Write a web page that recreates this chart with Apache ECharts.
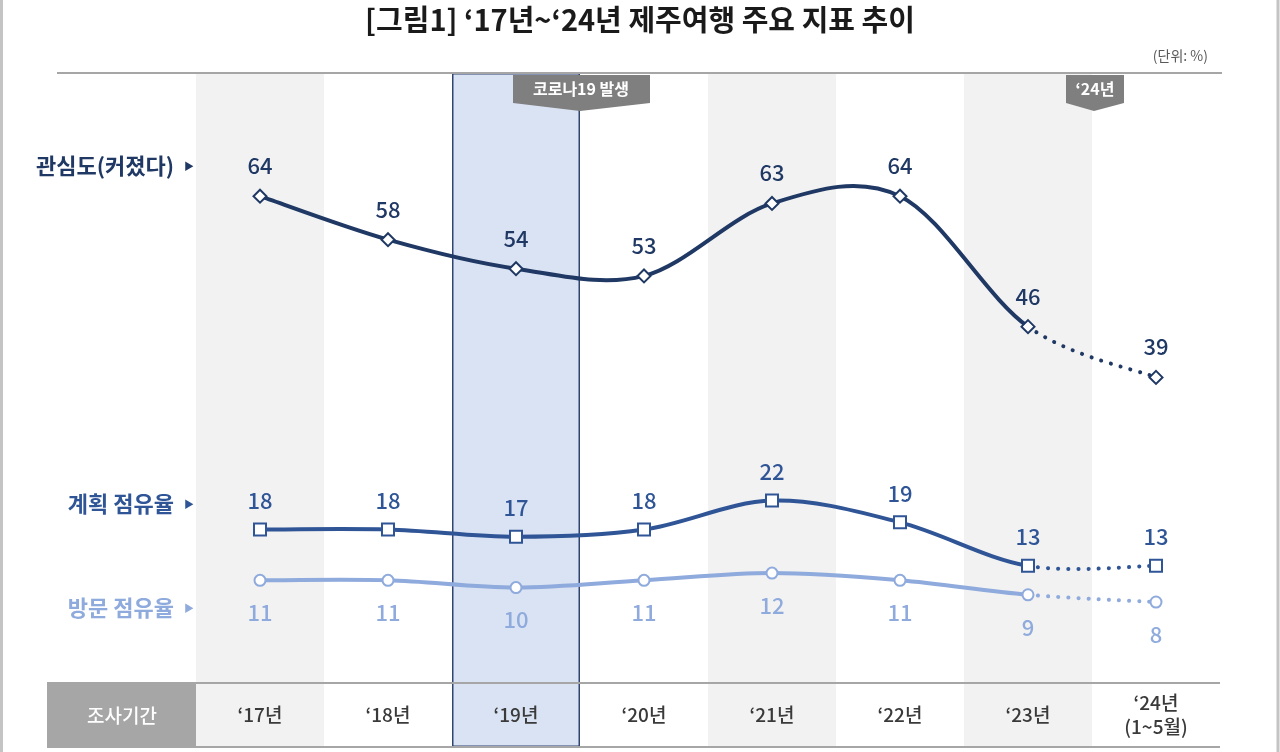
<!DOCTYPE html>
<html>
<head>
<meta charset="utf-8">
<script src="https://cdn.jsdelivr.net/npm/echarts@6/dist/echarts.min.js"></script>
<style>
html,body{margin:0;padding:0;background:#fff;}
#chart{width:1280px;height:752px;}
</style>
</head>
<body>
<div id="chart"></div>
<script>
// ---- data ----
const categories = ['‘17년', '‘18년', '‘19년', '‘20년', '‘21년', '‘22년', '‘23년', '‘24년\n(1~5월)'];
const interest = [64, 58, 54, 53, 63, 64, 46, 39];   // 관심도(커졌다)
const plan = [18, 18, 17, 18, 22, 19, 13, 13];       // 계획 점유율
const visit = [11, 11, 10, 11, 12, 11, 9, 8];        // 방문 점유율
const lastSolidIndex = 6;                             // '23년: after this the line is dotted
const bandKinds = ['grey', 'white', 'blue', 'white', 'grey', 'white', 'grey', 'white'];

const FONT = '"Noto Sans CJK KR", "Noto Sans", sans-serif';
const C_INT = '#1f3864';
const C_PLAN = '#2f5597';
const C_VIS = '#8faadc';

// smooth curve (cardinal spline, like office charts) drawn through the axis scales
function curveSeries(arr, color) {
  const n = arr.length;
  return {
    type: 'custom', silent: true, z: 4,
    data: arr.map((v, i) => [i, v]),
    encode: { x: 0, y: 1 },
    renderItem: function (params, api) {
      const i = params.dataIndex;
      if (i >= n - 1) return null;
      const P = j => { j = Math.max(0, Math.min(n - 1, j)); return api.coord([j, arr[j]]); };
      const p0 = P(i - 1), p1 = P(i), p2 = P(i + 1), p3 = P(i + 2);
      const t = 1 / 6;
      const dotted = i >= lastSolidIndex;
      return {
        type: 'bezierCurve',
        shape: {
          x1: p1[0], y1: p1[1], x2: p2[0], y2: p2[1],
          cpx1: p1[0] + (p2[0] - p0[0]) * t, cpy1: p1[1] + (p2[1] - p0[1]) * t,
          cpx2: p2[0] - (p3[0] - p1[0]) * t, cpy2: p2[1] - (p3[1] - p1[1]) * t
        },
        style: {
          stroke: color, lineWidth: 4, fill: null, lineCap: 'round',
          lineDash: dotted ? [0.1, 10] : null
        }
      };
    }
  };
}

function markerSeries(arr, color, symbol, size, labelPos, labelDist) {
  return {
    type: 'scatter', silent: true, z: 6,
    data: arr.map((v, i) => [i, v]),
    symbol: symbol, symbolSize: size,
    itemStyle: { color: '#fff', borderColor: color, borderWidth: 2, opacity: 1 },
    label: {
      show: true, position: labelPos, distance: labelDist,
      formatter: p => String(p.value[1]),
      color: color, fontSize: 22, fontWeight: 500, fontFamily: FONT
    }
  };
}

const bandColors = { grey: '#f2f2f2', white: 'rgba(0,0,0,0)', blue: '#dae3f3' };

const chart = echarts.init(document.getElementById('chart'));
const option = {
  animation: false,
  grid: { left: 196, right: 60, top: 73, bottom: 5 },
  xAxis: {
    type: 'category', data: categories, boundaryGap: true, z: 8,
    axisLine: { show: false }, axisTick: { show: false },
    axisLabel: { inside: true, margin: 32, verticalAlign: 'middle', color: '#3a3a3a', fontSize: 19, fontWeight: 500, lineHeight: 24, fontFamily: FONT, interval: 0 }
  },
  yAxis: [
    { type: 'value', min: -12, max: 81, show: false },
    { type: 'value', min: 0, max: 1, show: false }
  ],
  series: [
    {
      type: 'bar', yAxisIndex: 1, barWidth: '100%', barGap: '0%', silent: true, z: 1,
      data: bandKinds.map(k => ({
        value: k === 'white' ? 0 : 1,
        itemStyle: k === 'blue'
          ? { color: bandColors.blue, borderColor: '#2f4470', borderWidth: 1.5 }
          : { color: bandColors[k] }
      }))
    },
    curveSeries(interest, C_INT),
    curveSeries(plan, C_PLAN),
    curveSeries(visit, C_VIS),
    markerSeries(interest, C_INT, 'diamond', 13, 'top', 12),
    markerSeries(plan, C_PLAN, 'rect', 12, 'top', 11),
    markerSeries(visit, C_VIS, 'circle', 11, 'bottom', 15)
  ],
  graphic: [
    { type: 'line', shape: { x1: 1.5, y1: 0, x2: 1.5, y2: 752 }, style: { stroke: '#c4c4c4', lineWidth: 3 }, z: 20 },
    { type: 'line', shape: { x1: 1278, y1: 0, x2: 1278, y2: 752 }, style: { stroke: '#c4c4c4', lineWidth: 3 }, z: 20 },
    { type: 'text', left: 'center', top: 5, style: { text: '[그림1] ‘17년~‘24년 제주여행 주요 지표 추이', font: 'bold 29px ' + FONT, fill: '#1a1a1a' } },
    { type: 'text', x: 1208, y: 56, style: { text: '(단위: %)', font: '14px ' + FONT, fill: '#595959', align: 'right', verticalAlign: 'middle' } },
    { type: 'line', shape: { x1: 57, y1: 73, x2: 1222, y2: 73 }, style: { stroke: '#a6a6a6', lineWidth: 2 }, z: 10 },
    { type: 'line', shape: { x1: 47, y1: 683, x2: 1220, y2: 683 }, style: { stroke: '#a6a6a6', lineWidth: 2 }, z: 10 },
    { type: 'line', shape: { x1: 47, y1: 747, x2: 1220, y2: 747 }, style: { stroke: '#a6a6a6', lineWidth: 2 }, z: 10 },
    { type: 'rect', shape: { x: 47, y: 684, width: 149, height: 62 }, style: { fill: '#a6a6a6' }, z: 9 },
    { type: 'text', x: 122, y: 716, style: { text: '조사기간', font: '500 19px ' + FONT, fill: '#ffffff', align: 'center', verticalAlign: 'middle' }, z: 11 },
    // tags
    { type: 'polygon', shape: { points: [[513, 75], [650, 75], [650, 103], [580, 111], [513, 103]] }, style: { fill: '#7f7f7f' }, z: 12 },
    { type: 'text', x: 581, y: 89, style: { text: '코로나19 발생', font: 'bold 16px ' + FONT, fill: '#ffffff', align: 'center', verticalAlign: 'middle' }, z: 13 },
    { type: 'polygon', shape: { points: [[1066, 75], [1124, 75], [1124, 103], [1094, 111], [1066, 103]] }, style: { fill: '#7f7f7f' }, z: 12 },
    { type: 'text', x: 1095, y: 89, style: { text: '‘24년', font: 'bold 16px ' + FONT, fill: '#ffffff', align: 'center', verticalAlign: 'middle' }, z: 13 },
    // left series labels
    { type: 'text', x: 174, y: 166, style: { text: '관심도(커졌다)', font: 'bold 22px ' + FONT, fill: C_INT, align: 'right', verticalAlign: 'middle' } },
    { type: 'text', x: 189, y: 166, style: { text: '▶', font: '10px ' + FONT, fill: C_INT, align: 'center', verticalAlign: 'middle' } },
    { type: 'text', x: 174, y: 504, style: { text: '계획 점유율', font: 'bold 22px ' + FONT, fill: C_PLAN, align: 'right', verticalAlign: 'middle' } },
    { type: 'text', x: 189, y: 504, style: { text: '▶', font: '10px ' + FONT, fill: C_PLAN, align: 'center', verticalAlign: 'middle' } },
    { type: 'text', x: 174, y: 608, style: { text: '방문 점유율', font: 'bold 22px ' + FONT, fill: C_VIS, align: 'right', verticalAlign: 'middle' } },
    { type: 'text', x: 189, y: 608, style: { text: '▶', font: '10px ' + FONT, fill: C_VIS, align: 'center', verticalAlign: 'middle' } }
  ]
};
chart.setOption(option);
</script>
</body>
</html>
